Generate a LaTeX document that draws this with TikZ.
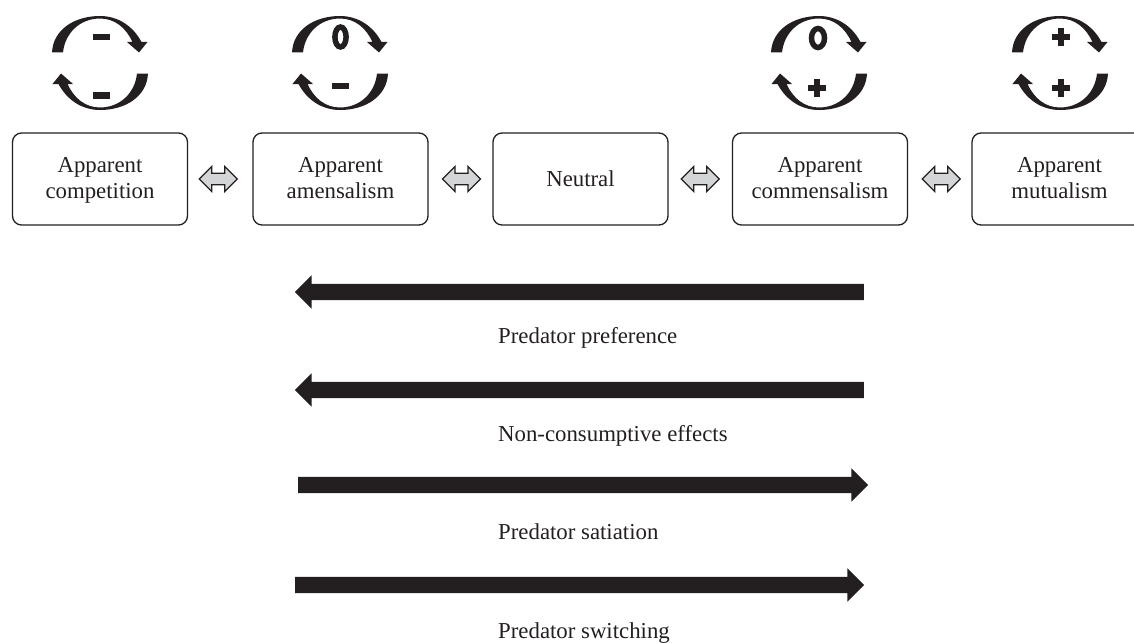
\documentclass[tikz,border=0pt]{standalone}
\usepackage{fontspec}
\setmainfont{Liberation Serif}
\usetikzlibrary{shapes.arrows,calc}
\definecolor{ink}{HTML}{231F20}
\definecolor{pale}{HTML}{D4D5D6}
\tikzset{
  x=1pt,y=-1pt,
  lab/.style={font=\fontsize{22.8}{26}\selectfont,text=ink},
  box/.style={lab,draw=ink,line width=1.3pt,rounded corners=9pt,minimum width=175pt,minimum height=92pt,align=center,inner sep=0pt,outer sep=0pt},
  swap/.style={double arrow,draw=ink,fill=pale,line width=1.2pt,minimum height=38pt,minimum width=25pt,inner sep=5pt,outer sep=0pt,double arrow tip angle=90,double arrow head extend=6.5pt,text width=0pt,text height=0pt,text depth=0pt},
  thick arrow/.style={single arrow,fill=ink,inner sep=8pt,outer sep=0pt,minimum width=33pt,single arrow tip angle=90,single arrow head extend=8.5pt,text width=0pt,text height=0pt,text depth=0pt},
  sign/.style={fill=ink,draw=none},
  zero/.style={draw=ink,line width=5.5pt,fill=none}
}
\newcommand{\halfcycle}{%
  \fill[ink] (-48,-10.5) .. controls (-47,-33) and (-26,-47) .. (0,-47)
    .. controls (18,-47) and (33,-37) .. (41.5,-21)
    -- (47.5,-21) -- (39,-10.5) -- (27,-21) -- (32.5,-21)
    .. controls (26,-35) and (15,-44.5) .. (0,-44.5)
    .. controls (-20,-44.5) and (-35,-30) .. (-37,-10.5) -- cycle;}
\newcommand{\cyclepair}[1]{%
  \begin{scope}[shift={(#1,63)}]\halfcycle\end{scope}
  \begin{scope}[shift={(#1,63)},rotate=180]\halfcycle\end{scope}}
\newcommand{\minussign}[2]{\fill[sign] ($(#1,#2)+(-8.5,-3.2)$) rectangle ($(#1,#2)+(8.5,3.2)$);}
\newcommand{\plussign}[2]{%
  \fill[sign] (#1-9,#2-3) rectangle (#1+9,#2+3);
  \fill[sign] (#1-3,#2-9) rectangle (#1+3,#2+9);}
\newcommand{\twolines}[2]{\rule{0pt}{17.5pt}#1\\#2\rule[-5pt]{0pt}{5pt}}
\begin{document}
\begin{tikzpicture}
\useasboundingbox (0,0) rectangle (1134,642);
\clip (0,0) rectangle (1134,642);
% cycles
\cyclepair{100}\cyclepair{340}\cyclepair{819}\cyclepair{1060}
\minussign{101.5}{37}\minussign{101.5}{95.5}
\draw[zero] (340.5,37) ellipse (5.6 and 10);
\minussign{340}{86}
\draw[zero] (818,38) ellipse (6.5 and 9.5);
\plussign{817}{88}
\plussign{1061}{37}\plussign{1061}{88}
% boxes
\node[box] (comp) at (100,179) {\twolines{Apparent}{competition}};
\node[box] (amen) at (340.5,179) {\twolines{Apparent}{amensalism}};
\node[box] (neut) at (580.5,179) {Neutral};
\node[box] (comm) at (820,179) {\twolines{Apparent}{commensalism}};
\node[box] (mutu) at (1059.5,179) {\twolines{Apparent}{mutualism}};
% exchange arrows
\node[swap] (s1) at ($(comp)!0.5!(amen)+(-2,0)$) {};
\node[swap] (s2) at ($(amen)!0.5!(neut)+(1,0)$) {};
\node[swap] (s3) at ($(neut)!0.5!(comm)$) {};
\node[swap] (s4) at ($(comm)!0.5!(mutu)+(1.5,0)$) {};
% thick arrows
\node[thick arrow,minimum height=569pt,shape border rotate=180] (a1) at (583.5,292) {};
\node[thick arrow,minimum height=569pt,shape border rotate=180] (a2) at (583.5,390) {};
\node[thick arrow,minimum height=570pt] (a3) at (579,485) {};
\node[thick arrow,minimum height=569pt] (a4) at (575.5,585) {};
% labels
\node[lab,anchor=base west,inner sep=0pt] (l1) at (498,343) {Predator preference};
\node[lab,anchor=base west,inner sep=0pt] (l2) at (498,441) {Non-consumptive effects};
\node[lab,anchor=base west,inner sep=0pt] (l3) at (498,539) {Predator satiation};
\node[lab,anchor=base west,inner sep=0pt] (l4) at (498,638) {Predator switching};
\end{tikzpicture}
\end{document}
